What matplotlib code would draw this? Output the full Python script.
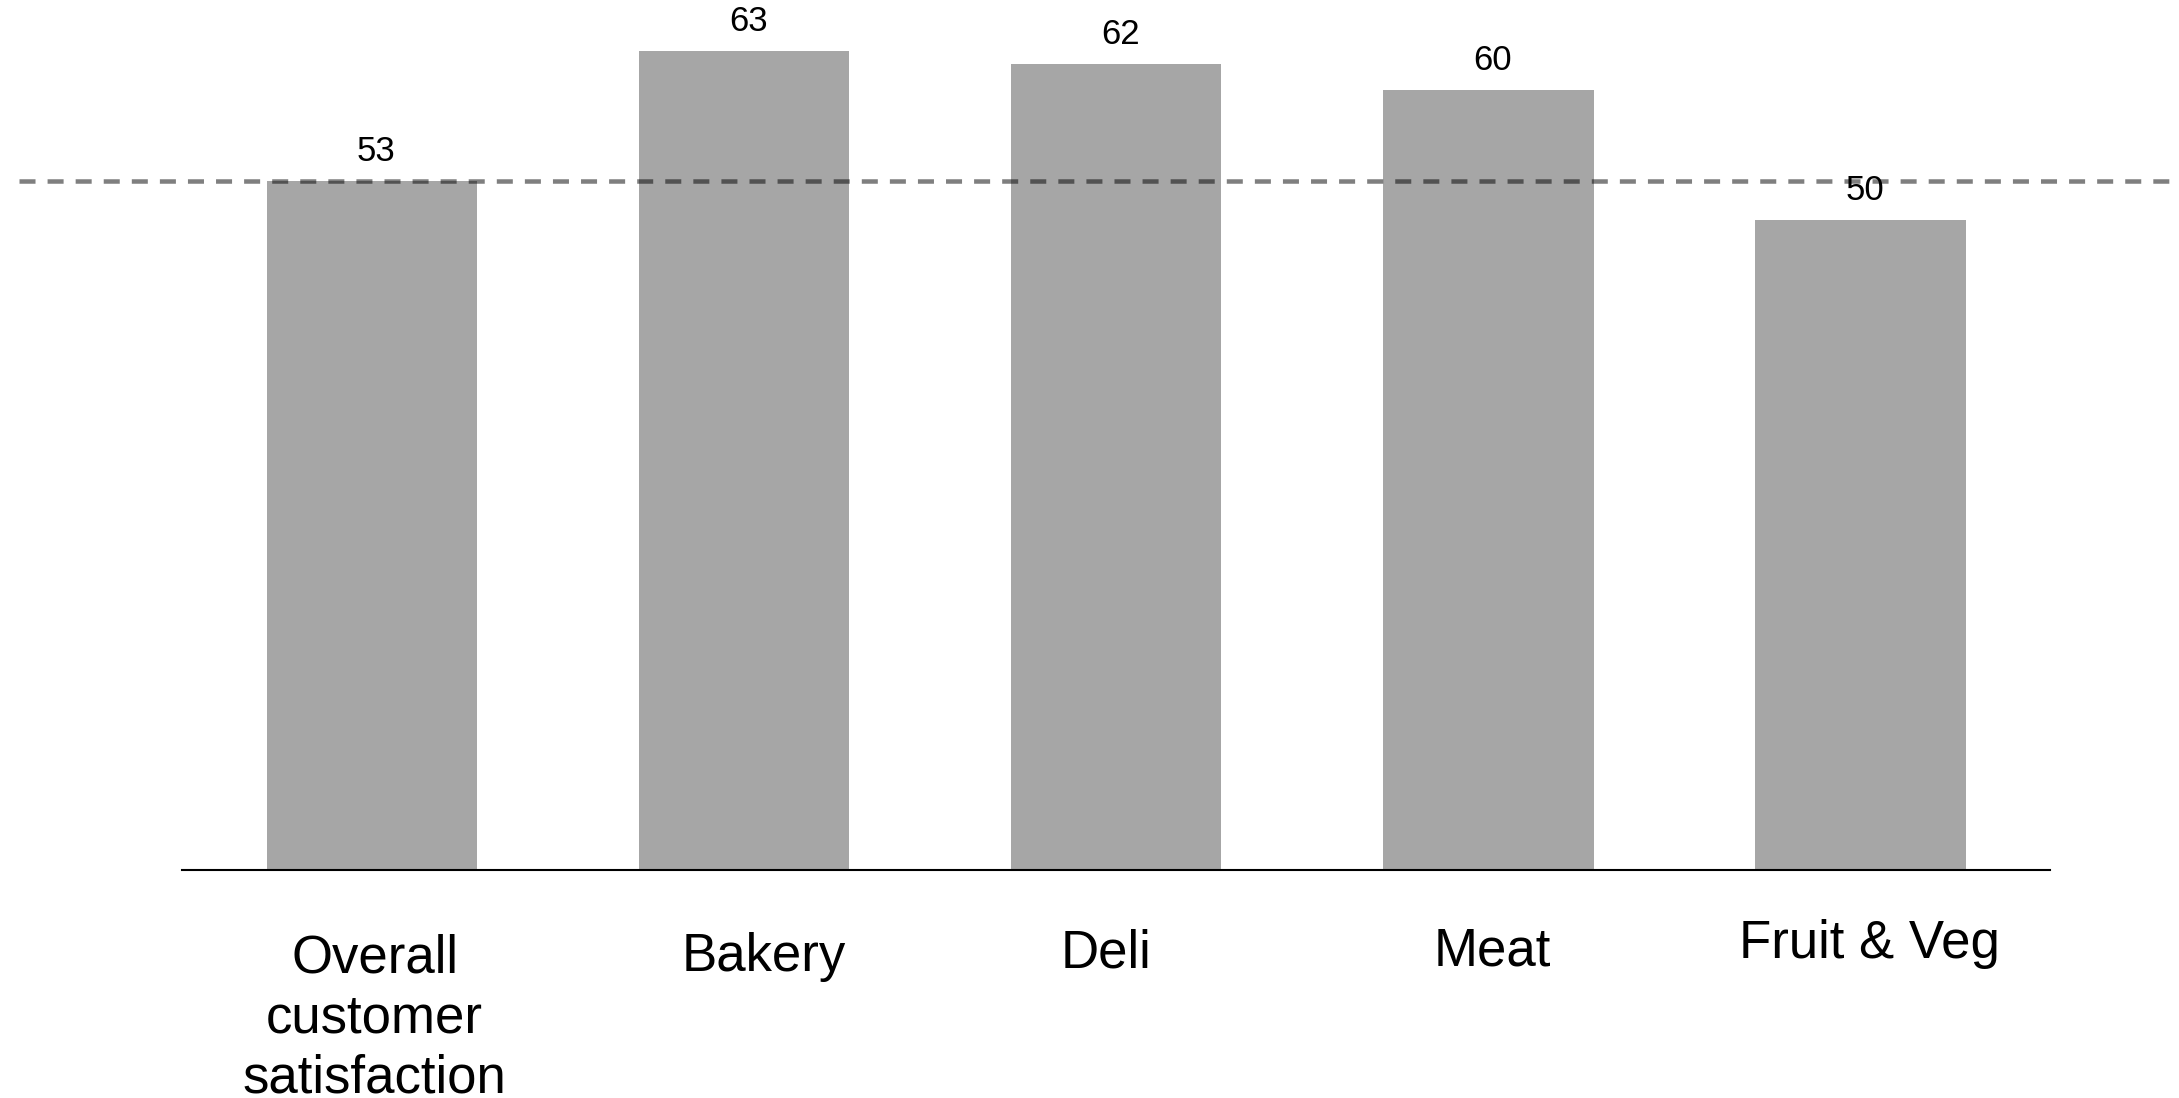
#!/usr/bin/env python3
"""Bar chart of satisfaction scores by department against the overall score."""
import matplotlib.pyplot as plt

categories = ["Overall\ncustomer\nsatisfaction", "Bakery", "Deli", "Meat", "Fruit & Veg"]
scores = [53, 63, 62, 60, 50]
benchmark = 53  # overall score, drawn as a reference line

BAR_COLOR = "#a6a6a6"
# hand-placed nudges (points) for the category labels; dy is to the last line's baseline
LABEL_NUDGE = [(2, -160.5), (14, -72.5), (-7, -70), (3, -69), (6, -63.5)]

plt.rcParams["font.family"] = ["Liberation Sans", "DejaVu Sans"]

fig = plt.figure(figsize=(21.79, 10.98), dpi=100)
ax = fig.add_axes([0.0835, 0.2077, 0.8575, 0.7923])

xs = range(len(categories))
bars = ax.bar(xs, scores, width=0.565, color=BAR_COLOR, zorder=1)

for bar, val in zip(bars, scores):
    ax.annotate(f"{val}", (bar.get_x() + bar.get_width() / 2, bar.get_height()),
                xytext=(3, 14), textcoords="offset points",
                ha="center", va="baseline", fontsize=25, color="black", zorder=2)

# reference line runs past the axes on both sides
ax.axhline(benchmark, xmin=-0.087, xmax=1.07, color="black", alpha=0.5,
           linewidth=3.25, dashes=(3.55, 2.67), clip_on=False, zorder=3)

for i, (label, (dx, dy)) in enumerate(zip(categories, LABEL_NUDGE)):
    ax.annotate(label, (i, 0), xytext=(dx, dy), textcoords="offset points",
                ha="center", va="baseline", multialignment="center",
                fontsize=38, linespacing=1.26, annotation_clip=False)

ax.set_xlim(-0.51, 4.51)
ax.set_ylim(0, 66.9)
ax.set_xticks([])
ax.set_yticks([])

for side in ("top", "left", "right"):
    ax.spines[side].set_visible(False)
ax.spines["bottom"].set_linewidth(1.5)
ax.spines["bottom"].set_color("black")

fig.savefig("out.png", dpi=100)
